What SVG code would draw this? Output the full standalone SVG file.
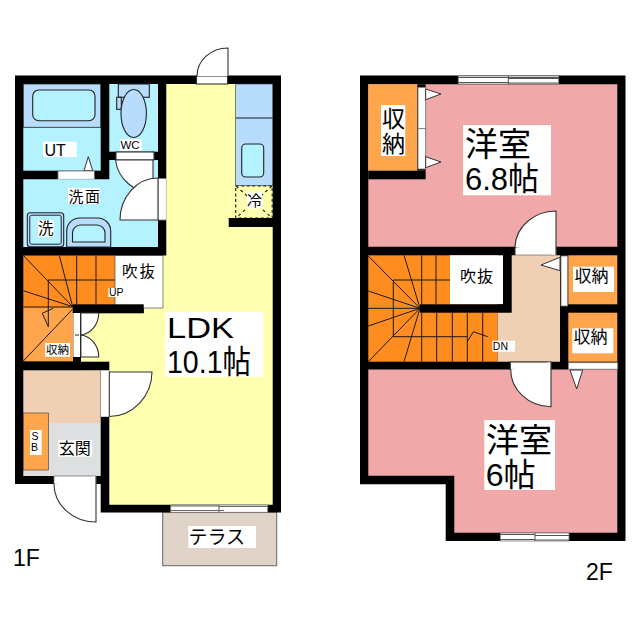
<svg xmlns="http://www.w3.org/2000/svg" width="640" height="640" viewBox="0 0 640 640">
<defs><style>
text{font-family:"Liberation Sans","Noto Sans CJK JP",sans-serif;fill:#000}
.wall{fill:#000}
.yellow{fill:#ffffb0}.aqua{fill:#b4f2ff}.blue{fill:#b8dcfc}.dark{fill:#ff8c1e}.light{fill:#ffa64d}
.peach{fill:#f0d0b4}.pink{fill:#f0a8a8}.gray{fill:#dedfe0}.lab{fill:#fff}
.ln{fill:none;stroke:#1a1a1a;stroke-width:1.2}
.st{fill:none;stroke:#1a1a1a;stroke-width:1}
.door{fill:#fff;stroke:#333;stroke-width:1.1}
.glass{fill:#fff;stroke:#777;stroke-width:.8}
.eq{stroke:#222;stroke-width:1.1}
</style></defs>
<rect width="640" height="640" fill="#fff"/>

<g id="floor-1F">
<rect id="terrace" x="162.7" y="512" width="114" height="53.7" fill="#e0d4c8" stroke="#666" stroke-width="1"/>
<polygon class="wall" points="15,75.5 281,75.5 281,512.5 100.7,512.5 100.7,484 15,484"/>

<g id="bath-ut">
<rect class="aqua" x="23.3" y="84" width="77.4" height="86.7"/>
<rect class="blue" x="23.3" y="84" width="77.4" height="43.3" stroke="#222" stroke-width=".8"/>
<rect class="aqua eq" x="32.7" y="90" width="62.3" height="30.7" rx="6"/>
<polygon points="84,170.7 88.3,156.7 92.7,170.7" fill="#fff" stroke="#333" stroke-width="1"/>
<rect class="glass" x="58" y="171" width="36.3" height="8.3"/>
<rect class="lab" x="43" y="141.7" width="33.7" height="15.3"/>
<text x="44.5" y="155.7" font-size="16">UT</text>
</g>

<g id="wc">
<rect class="aqua" x="109.3" y="84" width="48.7" height="67.7"/>
<rect class="blue eq" x="118.3" y="84" width="31" height="13.3"/>
<rect class="blue eq" x="116.7" y="97.3" width="4.6" height="12"/>
<ellipse class="blue eq" cx="133.7" cy="113.5" rx="12.7" ry="24"/>
<rect class="lab" x="120" y="139" width="22" height="11.7"/>
<text x="120.5" y="149" font-size="11.5">WC</text>
</g>

<g id="washroom">
<polygon class="aqua" points="23.3,179.3 109.3,179.3 109.3,160 158,160 158,247 23.3,247"/>
<rect class="door" x="116" y="152" width="38" height="8"/>
<path class="door" d="M115.5 160 A38 38 0 0 0 153 193 V160 Z"/>
<rect class="glass" x="158" y="178.5" width="8.3" height="41.5"/>
<path class="door" d="M120 220 A38 42 0 0 1 158 178 V220 Z"/>
<rect x="27.3" y="212.7" width="36.4" height="34" rx="3" fill="#b4dcf4" stroke="#223" stroke-width="1.1"/>
<rect class="aqua" x="29.8" y="215.2" width="31.4" height="29" rx="2" stroke="#223" stroke-width="1"/>
<rect class="lab" x="38" y="220" width="16" height="16.7"/>
<text x="38" y="234" font-size="15.5">洗</text>
<path class="blue eq" d="M66.7 247 V231 A13 13 0 0 1 80 218 H97.5 A13 13 0 0 1 110.7 231 V247 Z"/>
<path class="aqua eq" d="M72.5 242 V233 A8 8 0 0 1 80.5 225 H97 A8 8 0 0 1 105 233 V242 Z"/>
<rect class="lab" x="68" y="188" width="32" height="16"/>
<text x="68.5" y="202" font-size="15">洗</text><text x="85" y="202" font-size="15">面</text>
</g>

<g id="ldk">
<polygon class="yellow" points="166.3,84 272.7,84 272.7,504.7 109.3,504.7 109.3,370.3 81,370.3 81,313 143.7,313 143.7,308 163,308 163,255.5 166.3,255.5"/>
<rect class="blue" x="235.7" y="84" width="37" height="101.7" stroke="#333" stroke-width=".6"/>
<line class="ln" x1="235.7" y1="118" x2="272.7" y2="118"/>
<rect class="aqua eq" x="241.7" y="144" width="22" height="33" rx="4"/>
<rect x="235.7" y="186" width="36.5" height="32" fill="none" stroke="#222" stroke-width="1.2" stroke-dasharray="3 2.5"/>
<path d="M236 186 L272 218 M272 186 L236 218" stroke="#222" stroke-width="1.1" stroke-dasharray="3 3" fill="none"/>
<rect class="lab" x="247" y="192.5" width="15" height="16"/>
<text x="247" y="206" font-size="15">冷</text>
<rect class="wall" x="228.7" y="218" width="52" height="9"/>
<rect class="lab" x="165.3" y="311.7" width="98" height="65"/>
<text x="167" y="337.7" font-size="29" textLength="67" lengthAdjust="spacingAndGlyphs">LDK</text>
<text x="167" y="373" font-size="32" textLength="84" lengthAdjust="spacingAndGlyphs">10.1帖</text>
<rect class="glass" x="170.7" y="505" width="97" height="7.3"/>
<path d="M170.7 506 H219 M170.7 510.5 H219 M219 505 V512.3 M219 506.5 H267.7 M219 510.5 H224" stroke="#666" stroke-width="1.1" fill="none"/>
<rect class="door" x="196.5" y="76" width="31" height="8"/>
<path class="door" d="M197 76 A31 28 0 0 1 228 48 V76"/>
</g>

<g id="stairs-1F">
<rect class="dark" x="23.3" y="255.5" width="91.7" height="52.5"/>
<rect class="light" x="23.3" y="308" width="49.7" height="53.5"/>
<path class="st" d="M76.7 255.5 V304 M96 255.5 V304 M48.3 280 H115 M48.3 280 V326.7 M72.7 306.7 L23.3 255.5 M72.7 306.7 L59.3 255.5 M72.7 306.7 L23.3 290.7 M72.7 307 H23.3 M72.7 309 L23.3 361 M48.3 326.7 L42.3 313.3 L53.3 308.3"/>
<rect class="lab" x="115" y="255.5" width="48" height="52.5" stroke="#333" stroke-width=".6"/>
<text x="122" y="277" font-size="15.5">吹</text><text x="139.5" y="277" font-size="15.5">抜</text>
<rect class="wall" x="72.7" y="304.3" width="71" height="9"/>
<rect class="lab" x="108.3" y="288" width="16.7" height="9"/>
<text x="109" y="296" font-size="10.5">UP</text>
<rect class="lab" x="45" y="343" width="25" height="13.7"/>
<text x="46" y="354" font-size="11.5">収納</text>
<rect class="lab" x="73.3" y="313" width="7.5" height="44"/>
<path class="door" d="M80.7 313 H98.7 A20 22 0 0 1 80.7 335 Z"/>
<path class="door" d="M80.7 357 H98.7 A20 22 0 0 0 80.7 335 Z"/>
<path d="M75 335 H79 M80.7 313 V357" stroke="#222" stroke-width="1" fill="none"/>
<rect class="wall" x="73" y="357" width="8" height="5"/>
</g>

<g id="entrance">
<rect class="wall" x="15" y="361.7" width="94.3" height="8.6"/>
<rect class="peach" x="23.3" y="370.3" width="77.4" height="53"/>
<rect class="gray" x="23.3" y="423" width="77.4" height="53"/>
<rect class="light" x="23.3" y="413" width="25" height="57" stroke="#333" stroke-width=".6"/>
<rect class="lab" x="30" y="430" width="11.7" height="25"/>
<text x="31.5" y="439.5" font-size="10.5">S</text>
<text x="31" y="451" font-size="10.5">B</text>
<rect class="lab" x="58.3" y="440" width="34" height="16.7"/>
<text x="58.8" y="453.5" font-size="16">玄関</text>
<rect class="lab" x="101" y="370.3" width="8.3" height="46.5"/>
<path class="door" d="M109.3 372 H152 A43 45 0 0 1 109.3 416.5 Z"/>
<rect class="glass" x="54" y="476" width="42" height="8"/>
<path class="door" d="M54 484 A42 38 0 0 0 96 522 V476"/>
</g>

<g id="terrace-label">
<rect class="lab" x="188.3" y="526" width="67.7" height="22"/>
<text x="188.5" y="544" font-size="19">テラス</text>
</g>
<text id="label-1F" x="13" y="566" font-size="23">1F</text>
</g>

<g id="floor-2F">
<polygon class="wall" points="360,75.5 625.5,75.5 625.5,541 445.7,541 445.7,484.3 360,484.3"/>

<g id="room-68">
<polygon class="pink" points="368.3,84.3 617.3,84.3 617.3,246.7 368.3,246.7"/>
<rect class="light" x="368.3" y="84.3" width="49" height="86.4"/>
<rect class="wall" x="368.3" y="170.7" width="57.4" height="8.6"/>
<rect class="wall" x="417.3" y="84.3" width="8.4" height="86.4"/>
<rect class="glass" x="418" y="87.3" width="7.7" height="41.4"/>
<rect class="glass" x="418" y="128.7" width="7.7" height="40.3"/>
<polygon points="425.7,89 441,94 425.7,99.7" fill="#fff" stroke="#333" stroke-width="1"/>
<polygon points="425.7,156.7 441,162 425.7,167.7" fill="#fff" stroke="#333" stroke-width="1"/>
<rect class="lab" x="381" y="105" width="24.3" height="51"/>
<text x="382" y="127" font-size="23">収</text>
<text x="382" y="152" font-size="23">納</text>
<rect class="lab" x="463" y="125" width="88" height="70.3"/>
<text x="465" y="156" font-size="33">洋室</text>
<text x="465" y="189.5" font-size="32" textLength="74" lengthAdjust="spacingAndGlyphs">6.8帖</text>
<rect class="glass" x="458.3" y="76" width="100.4" height="8"/>
<path d="M458.3 77.5 H558.7 M458.3 82.5 H508.3 M508.3 76 V84 M508.3 78.5 H558.7 M508.3 83 H558.7" stroke="#555" stroke-width="1" fill="none"/>
<rect class="door" x="515" y="247" width="41.3" height="8.3"/>
<path class="door" d="M515 247 A41 37 0 0 1 556 211 V255"/>
</g>

<g id="stairs-2F">
<rect class="dark" x="368.3" y="255.3" width="129.4" height="106.4"/>
<path class="st" d="M421.7 255.3 V304 M436 255.3 V304 M393.3 280 H450 M393.3 280 V336.7 M421.7 313 V361.7 M436.7 313 V361.7 M452.3 313 V361.7 M467.3 313 V361.7 M482.7 313 V361.7 M393.3 336.7 H467.3 M420 308.3 L368.3 256 M420 308.3 L404 255.3 M420 308.3 L368.3 291 M420 308.3 H368.3 M420 308.3 L368.3 326 M420 308.3 L368.3 361.7 M420 308.3 L404 361.7 M467.3 341.7 L473.3 331.7 L487.7 336.7"/>
<rect class="lab" x="450" y="255.3" width="53" height="49"/>
<text x="460" y="282" font-size="16">吹</text><text x="477" y="282" font-size="16">抜</text>
<rect class="wall" x="420" y="304.3" width="91.7" height="8.4"/>
<rect class="wall" x="503" y="247" width="8.7" height="65.7"/>
</g>

<g id="hall-2F">
<polygon class="peach" points="511.7,255.3 560,255.3 560,361.7 497.7,361.7 497.7,312.7 511.7,312.7"/>
<rect class="lab" x="492.3" y="340.7" width="22.7" height="11"/>
<text x="492.8" y="349.5" font-size="10.5">DN</text>
<polygon points="560,257.3 541,265 560,270.7" fill="#fff" stroke="#333" stroke-width="1"/>
<rect class="glass" x="561" y="256" width="6.7" height="50"/>
</g>

<g id="closet-upper">
<rect class="light" x="568.3" y="255.3" width="49" height="49"/>
<rect class="lab" x="573" y="266.7" width="41" height="25.3"/>
<text x="574.5" y="282.3" font-size="17">収納</text>
</g>
<g id="closet-lower">
<rect class="light" x="568.3" y="312.7" width="49" height="49"/>
<rect class="lab" x="572.3" y="328.3" width="41" height="25"/>
<text x="573.5" y="343" font-size="17">収納</text>
<rect class="glass" x="568.3" y="362.7" width="49.4" height="6.5"/>
</g>

<g id="room-6">
<polygon class="pink" points="368.3,369.5 617.3,369.5 617.3,532.7 454.3,532.7 454.3,475.7 368.3,475.7"/>
<polygon points="570,370 582.7,370 576.7,389" fill="#fff" stroke="#333" stroke-width="1"/>
<rect class="lab" x="484.3" y="420" width="70.7" height="70"/>
<text x="486" y="451.5" font-size="33">洋室</text>
<text x="485.7" y="485.5" font-size="32" textLength="50" lengthAdjust="spacingAndGlyphs">6帖</text>
<rect class="glass" x="500.3" y="533" width="68.7" height="8"/>
<path d="M500.3 534.5 H535 M500.3 539.5 H535 M535 533 V541 M535 535.5 H569 M535 540 H569" stroke="#555" stroke-width="1" fill="none"/>
<rect class="door" x="510.3" y="362" width="40.7" height="7.5"/>
<path class="door" d="M510.7 369.5 A41 37 0 0 0 551 406.7 V362"/>
</g>
<text id="label-2F" x="586" y="580" font-size="23">2F</text>
</g>
</svg>
